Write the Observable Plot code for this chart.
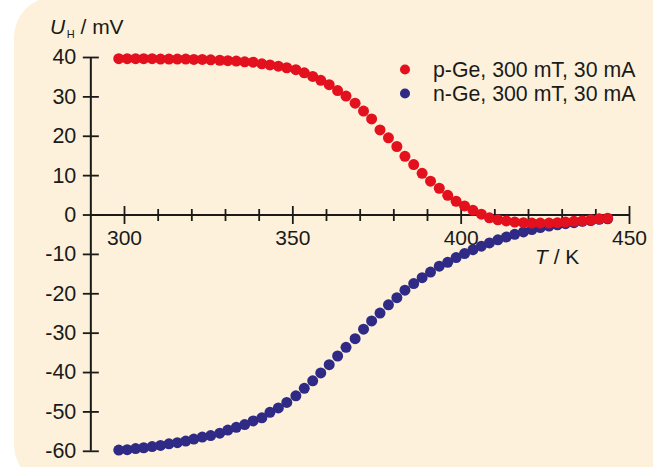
<!DOCTYPE html>
<html>
<head>
<meta charset="utf-8">
<script src="https://cdn.jsdelivr.net/npm/d3@7"></script>
<script src="https://cdn.jsdelivr.net/npm/@observablehq/plot@0.6"></script>
<style>
  html, body { margin: 0; padding: 0; background: #fff; overflow: hidden; }
  #wrap { position: relative; width: 653px; height: 467px; overflow: hidden; }
  #bg { position: absolute; left: 14px; top: -3px; width: 660px; height: 488px;
        background: #fdf1db; border-radius: 40px 14px 14px 40px; }
  #chart { position: absolute; left: 0; top: 0; }
</style>
</head>
<body>
<div id="wrap"><div id="bg"></div><div id="chart"></div></div>
<script>
// Temperature T / K
const temperature = [298.3, 300.8, 303.3, 305.7, 308.2, 310.7, 313.2, 315.7, 318.2, 320.6,
  323.1, 325.6, 328.3, 330.7, 333.2, 335.7, 338.2, 340.8, 343.2, 345.7,
  348.2, 350.9, 353.4, 355.9, 358.3, 360.8, 363.3, 365.8, 368.5, 371.0,
  373.4, 375.9, 378.4, 380.9, 383.3, 385.9, 388.4, 390.9, 393.5, 396.0,
  398.5, 401.0, 403.5, 406.0, 408.4, 410.9, 413.4, 415.9, 418.5, 421.0,
  423.5, 426.1, 428.6, 431.0, 433.5, 436.0, 438.5, 441.0, 443.5];
// Hall voltage U_H / mV, p-Ge
const pGe = [39.7, 39.7, 39.7, 39.7, 39.7, 39.6, 39.6, 39.6, 39.6, 39.5,
  39.5, 39.4, 39.3, 39.2, 39.1, 38.9, 38.8, 38.4, 38.1, 37.8,
  37.4, 36.9, 36.1, 35.2, 34.2, 33.1, 31.6, 30.2, 28.4, 26.4,
  24.4, 21.6, 19.6, 17.4, 14.9, 12.8, 10.6, 8.6, 6.8, 5.0,
  3.5, 2.3, 1.2, 0.2, -0.7, -1.2, -1.5, -1.8, -1.95, -2.05,
  -2.05, -2.05, -1.95, -1.8, -1.6, -1.5, -1.2, -0.95, -0.8];
// Hall voltage U_H / mV, n-Ge
const nGe = [-59.7, -59.6, -59.3, -59.1, -58.8, -58.5, -58.1, -57.8, -57.4, -56.9,
  -56.4, -56.0, -55.4, -54.6, -53.9, -53.2, -52.3, -51.5, -50.1, -49.0,
  -47.6, -45.9, -44.0, -42.1, -40.1, -38.0, -35.8, -33.6, -31.4, -29.0,
  -26.9, -24.9, -22.8, -21.0, -19.1, -17.4, -15.9, -14.5, -13.0, -12.0,
  -10.8, -9.8, -8.8, -7.9, -7.1, -6.3, -5.6, -4.9, -4.3, -3.7,
  -3.2, -2.8, -2.5, -2.2, -1.95, -1.6, -1.4, -1.1, -0.95];
const seriesNames = ["p-Ge, 300 mT, 30 mA", "n-Ge, 300 mT, 30 mA"];
const seriesColors = ["#e3101e", "#2f2a85"];
const xMajorTicks = [300, 350, 400, 450];
const xMinorTicks = [310, 320, 330, 340, 360, 370, 380, 390, 410, 420, 430, 440];
const yTicks = [-60, -50, -40, -30, -20, -10, 0, 10, 20, 30, 40];
const xAxisStart = 290, xAxisEnd = 450;

const pRows = temperature.map((t, i) => ({T: t, U: pGe[i]}));
const nRows = temperature.map((t, i) => ({T: t, U: nGe[i]}));

const vline = {draw(ctx, size) { const l = Math.sqrt(size / Math.PI); ctx.moveTo(0, -l); ctx.lineTo(0, l); }};
const hline = {draw(ctx, size) { const l = Math.sqrt(size / Math.PI); ctx.moveTo(-l, 0); ctx.lineTo(l, 0); }};

const FONT = "Liberation Sans, Arial, Helvetica, sans-serif";
const ink = "#1a1a1a";

const chart = Plot.plot({
  width: 653, height: 467,
  marginLeft: 0, marginRight: 0, marginTop: 0, marginBottom: 0,
  style: {background: "transparent", fontFamily: FONT, fontSize: "21px", color: ink},
  x: {domain: [300, 450], range: [124, 629], axis: null},
  y: {domain: [-60, 40], range: [450.8, 57], axis: null},
  marks: [
    Plot.ruleY([0], {x1: xAxisStart, x2: xAxisEnd, stroke: ink, strokeWidth: 2}),
    Plot.ruleX([xAxisStart], {y1: yTicks[0], y2: yTicks[yTicks.length - 1], stroke: ink, strokeWidth: 2}),
    Plot.dot(xMajorTicks, {x: d => d, y: 0, symbol: vline, r: 9, stroke: ink, strokeWidth: 1.8, fill: "none"}),
    Plot.dot(xMinorTicks, {x: d => d, y: 0, symbol: vline, r: 6, stroke: ink, strokeWidth: 1.8, fill: "none"}),
    Plot.dot(yTicks, {x: xAxisStart, y: d => d, symbol: hline, r: 8, stroke: ink, strokeWidth: 1.8, fill: "none"}),
    Plot.text(xMajorTicks, {x: d => d, y: 0, text: d => String(d), dy: 23, fontSize: 21, fill: ink, fontFamily: FONT}),
    Plot.text(yTicks, {x: xAxisStart, y: d => d, text: d => String(d), dx: -14.5, textAnchor: "end", fontSize: 21.5, fill: ink, fontFamily: FONT}),
    Plot.dot(nRows, {x: "T", y: "U", r: 5.5, fill: seriesColors[1], stroke: "none"}),
    Plot.dot(pRows, {x: "T", y: "U", r: 5.5, fill: seriesColors[0], stroke: "none"})
  ]
});
document.getElementById("chart").appendChild(chart);

const svg = d3.select(chart);
// y axis title U_H / mV
const yt = svg.append("text").attr("x", 50).attr("y", 33.5).attr("fill", ink)
  .style("font-family", FONT).style("font-size", "21px").attr("text-anchor", "start");
yt.append("tspan").attr("font-style", "italic").text("U");
yt.append("tspan").attr("font-size", "11px").attr("dx", 1.5).attr("dy", 4).text("H");
yt.append("tspan").attr("dy", -4).text(" / mV");
// x axis title T / K
const xt = svg.append("text").attr("x", 535).attr("y", 263.5).attr("fill", ink)
  .style("font-family", FONT).style("font-size", "21px").attr("text-anchor", "start");
xt.append("tspan").attr("font-style", "italic").text("T");
xt.append("tspan").text(" / K");
// legend
seriesNames.forEach((name, i) => {
  const cy = 69.5 + i * 24;
  svg.append("circle").attr("cx", 405).attr("cy", cy).attr("r", 5).attr("fill", seriesColors[i]);
  svg.append("text").attr("x", 433).attr("y", cy + 7.5).attr("fill", ink)
    .style("font-family", FONT).style("font-size", "21.3px").attr("text-anchor", "start").text(name);
});
</script>
</body>
</html>
